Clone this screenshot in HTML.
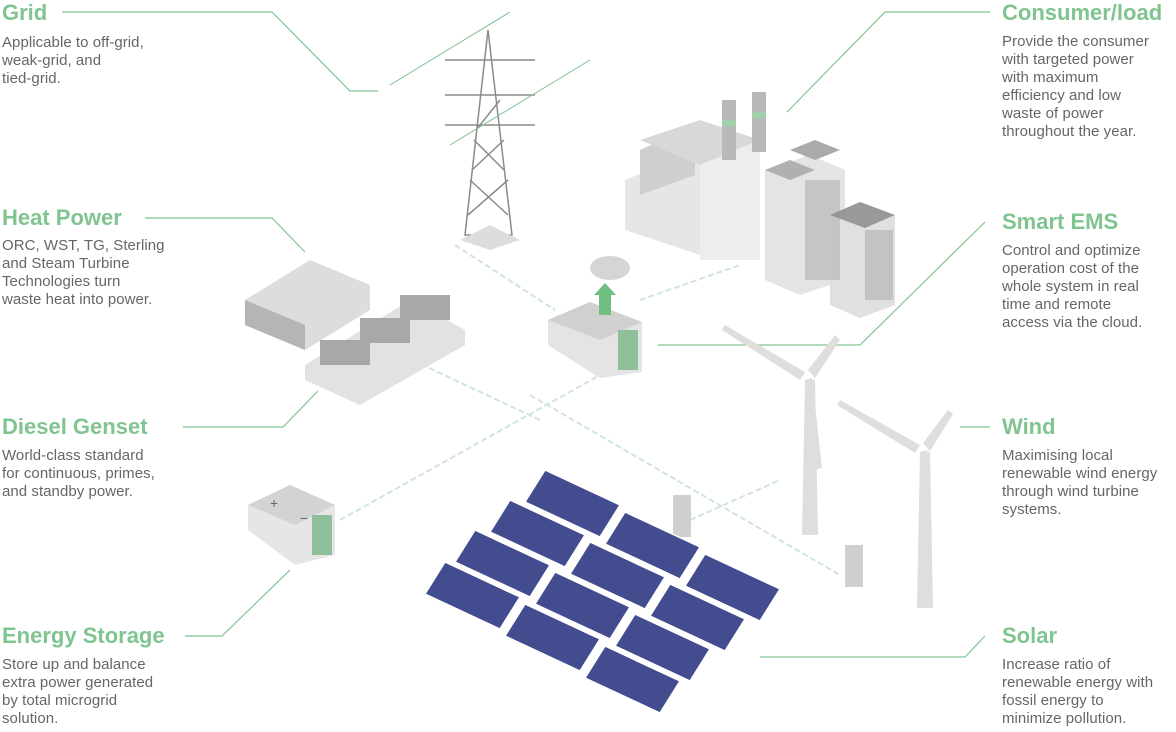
<!DOCTYPE html>
<html><head><meta charset="utf-8"><style>
body{margin:0;width:1176px;height:732px;background:#fff;position:relative;overflow:hidden;font-family:"Liberation Sans",sans-serif}
.t{position:absolute;color:#80c490;font-weight:bold;font-size:22px;line-height:24px;letter-spacing:0px}
.d{position:absolute;color:#666;font-size:15px;line-height:18px;letter-spacing:0.05px;white-space:nowrap}
svg{position:absolute;left:0;top:0}
</style></head><body>
<svg width="1176" height="732" viewBox="0 0 1176 732">
<g fill="none" stroke="#80c490" stroke-width="1.2">
<polyline points="62,12 272,12 350,91 378,91"/>
<polyline points="990,12 885,12 787,112"/>
<polyline points="145,218 272,218 305,252"/>
<polyline points="985,222 860,345 658,345"/>
<polyline points="183,427 283,427 318,391"/>
<polyline points="960,427 990,427"/>
<polyline points="185,636 222,636 290,570"/>
<polyline points="985,636 965,657 760,657"/>
</g>
<g fill="none" stroke="#cfe7d4" stroke-width="2" stroke-dasharray="6,3">
<polyline points="455,245 555,310"/>
<polyline points="640,300 740,265"/>
<polyline points="340,520 600,375"/>
<polyline points="380,345 540,420"/>
<polyline points="530,395 840,575"/>
<polyline points="690,520 780,480"/>
</g>
<g stroke="#8a8a8a" stroke-width="1.5" fill="none">
<polygon points="465,235 488,30 512,235" />
<line x1="445" y1="60" x2="535" y2="60"/><line x1="445" y1="95" x2="535" y2="95"/><line x1="445" y1="125" x2="535" y2="125"/>
<path d="M468,215 L508,180 M508,215 L470,180 M472,170 L504,140 M504,170 L474,140 M476,130 L500,100"/>
<line x1="390" y1="85" x2="510" y2="12" stroke="#7fbf8e" stroke-width="1"/>
<line x1="450" y1="145" x2="590" y2="60" stroke="#7fbf8e" stroke-width="1"/>
</g>
<polygon points="460,240 490,225 520,240 490,250" fill="#ddd"/>
<polygon points="625,180 700,150 700,255 625,230" fill="#e6e6e6"/>
<polygon points="640,150 695,125 695,175 640,195" fill="#cfcfcf"/>
<polygon points="700,165 760,140 760,260 700,260" fill="#ededed"/>
<polygon points="700,165 640,140 700,120 760,140" fill="#d8d8d8"/>
<rect x="722" y="100" width="14" height="60" fill="#b8b8b8"/><rect x="722" y="120" width="14" height="6" fill="#9fd1a9"/>
<rect x="752" y="92" width="14" height="60" fill="#b8b8b8"/><rect x="752" y="112" width="14" height="6" fill="#9fd1a9"/>
<polygon points="765,170 810,155 845,170 845,280 800,295 765,280" fill="#e4e4e4"/>
<polygon points="790,150 815,140 840,150 815,160" fill="#aaa"/>
<polygon points="765,170 790,160 815,170 790,180" fill="#b0b0b0"/>
<polygon points="830,215 860,202 895,215 895,305 860,318 830,305" fill="#e0e0e0"/>
<polygon points="830,215 860,202 895,215 865,228" fill="#999"/>
<g fill="#8c8c8c"><rect x="805" y="180" width="35" height="100" opacity=".35"/><rect x="865" y="230" width="28" height="70" opacity=".35"/></g>
<polygon points="245,300 310,260 370,285 370,310 305,350 245,325" fill="#ddd"/>
<polygon points="245,300 305,325 305,350 245,325" fill="#b5b5b5"/>
<polygon points="305,365 410,300 465,330 465,345 360,405 305,380" fill="#e2e2e2"/>
<g fill="#a8a8a8"><rect x="320" y="340" width="50" height="25"/><rect x="360" y="318" width="50" height="25"/><rect x="400" y="295" width="50" height="25"/></g>
<polygon points="548,320 590,302 642,322 642,372 600,378 548,345" fill="#e4e4e4"/>
<polygon points="548,320 590,302 642,322 600,340" fill="#d0d0d0"/>
<rect x="618" y="330" width="20" height="40" fill="#8fbf98"/>
<rect x="599" y="295" width="12" height="20" fill="#6fbf7e"/><polygon points="594,295 605,283 616,295" fill="#6fbf7e"/>
<ellipse cx="610" cy="268" rx="20" ry="12" fill="#d5d5d5"/>
<polygon points="248,505 290,485 335,505 335,555 295,565 248,530" fill="#e6e6e6"/>
<polygon points="248,505 290,485 335,505 295,525" fill="#d3d3d3"/>
<rect x="312" y="515" width="20" height="40" fill="#8fbf98"/>
<text x="270" y="508" font-size="14" fill="#666">+</text><text x="300" y="523" font-size="14" fill="#666">−</text>
<rect x="673" y="495" width="18" height="42" fill="#cfcfcf"/><rect x="845" y="545" width="18" height="42" fill="#cfcfcf"/>
<g fill="#dedede">
<polygon points="805,380 815,380 818,535 802,535"/>
<polygon points="920,452 930,452 933,608 917,608"/>
<polygon points="805,372 725,325 722,330 800,380"/><polygon points="808,370 835,335 840,340 815,378"/><polygon points="805,380 815,470 822,468 812,378"/>
<polygon points="920,445 840,400 837,405 915,453"/><polygon points="923,443 948,410 953,414 930,451"/><polygon points="920,452 925,540 932,538 927,450"/>
</g>
<g fill="#434c8e" stroke="#fff" stroke-width="1.5">
<polygon points="545,470 620,505 600,537 525,502"/><polygon points="625,512 700,547 680,579 605,544"/><polygon points="705,554 780,589 760,621 685,586"/>
<polygon points="510,500 585,535 565,567 490,532"/><polygon points="590,542 665,577 645,609 570,574"/><polygon points="670,584 745,619 725,651 650,616"/>
<polygon points="475,530 550,565 530,597 455,562"/><polygon points="555,572 630,607 610,639 535,604"/><polygon points="635,614 710,649 690,681 615,646"/>
<polygon points="445,562 520,597 500,629 425,594"/><polygon points="525,604 600,639 580,671 505,636"/><polygon points="605,646 680,681 660,713 585,678"/>
</g>
</svg>
<div class="t" style="left:2px;top:1px">Grid</div>
<div class="d" style="left:2px;top:34px">Applicable to off-grid,<br>weak-grid, and<br>tied-grid.</div>
<div class="t" style="left:1002px;top:1px">Consumer/load</div>
<div class="d" style="left:1002px;top:33px">Provide the consumer<br>with targeted power<br>with maximum<br>efficiency and low<br>waste of power<br>throughout the year.</div>
<div class="t" style="left:2px;top:206px">Heat Power</div>
<div class="d" style="left:2px;top:237px">ORC, WST, TG, Sterling<br>and Steam Turbine<br>Technologies turn<br>waste heat into power.</div>
<div class="t" style="left:1002px;top:210px">Smart EMS</div>
<div class="d" style="left:1002px;top:242px">Control and optimize<br>operation cost of the<br>whole system in real<br>time and remote<br>access via the cloud.</div>
<div class="t" style="left:2px;top:415px">Diesel Genset</div>
<div class="d" style="left:2px;top:447px">World-class standard<br>for continuous, primes,<br>and standby power.</div>
<div class="t" style="left:1002px;top:415px">Wind</div>
<div class="d" style="left:1002px;top:447px">Maximising local<br>renewable wind energy<br>through wind turbine<br>systems.</div>
<div class="t" style="left:2px;top:624px">Energy Storage</div>
<div class="d" style="left:2px;top:656px">Store up and balance<br>extra power generated<br>by total microgrid<br>solution.</div>
<div class="t" style="left:1002px;top:624px">Solar</div>
<div class="d" style="left:1002px;top:656px">Increase ratio of<br>renewable energy with<br>fossil energy to<br>minimize pollution.</div>
</body></html>
